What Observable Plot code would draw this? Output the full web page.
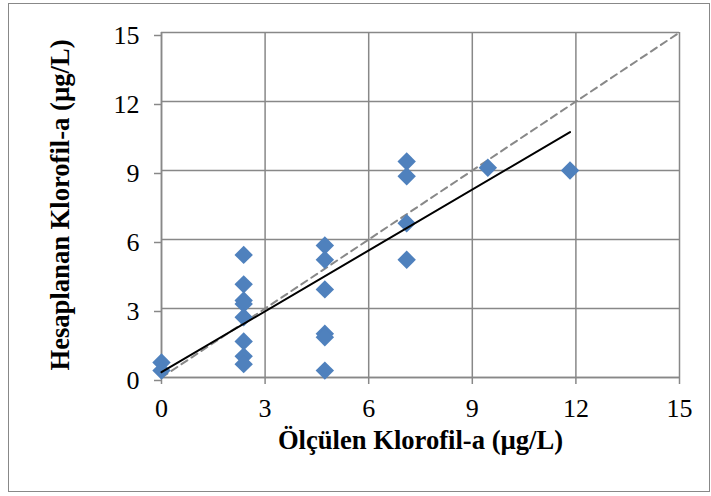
<!DOCTYPE html>
<html><head><meta charset="utf-8">
<script src="https://cdn.jsdelivr.net/npm/d3@7"></script>
<script src="https://cdn.jsdelivr.net/npm/@observablehq/plot@0.6"></script>
<style>
body{margin:0;background:#fff;}
#wrap{position:relative;width:711px;height:496px;overflow:hidden;}
#border{position:absolute;left:8px;top:3px;width:702px;height:489px;border:1.5px solid #888;box-sizing:border-box;pointer-events:none}
#wrap svg{position:absolute;left:0;top:0;}
</style></head><body><div id="wrap"><div id="border"></div></div>
<script>
// Measured (x) and calculated (y) chlorophyll-a, µg/L
const measured   = [0, 0, 2.38, 2.38, 2.38, 2.38, 2.38, 2.38, 2.38, 2.38, 4.73, 4.73, 4.73, 4.73, 4.73, 4.73, 7.1, 7.1, 7.1, 7.1, 9.45, 11.83];
const calculated = [0.65, 0.3, 5.33, 4.05, 3.35, 3.2, 2.62, 1.57, 0.92, 0.58, 5.74, 5.12, 3.83, 1.9, 1.75, 0.3, 9.39, 8.75, 6.71, 5.12, 9.12, 9.0];
// Trend line (as drawn) and 1:1 reference line
const trendX = [0, 11.83];
const trendY = [0.23, 10.67];
const oneToOne = [0, 15];
const ticks = [0, 3, 6, 9, 12, 15];
const xTitle = "Ölçülen Klorofil-a (µg/L)";
const yTitle = "Hesaplanan Klorofil-a (µg/L)";

const points = measured.map((x, i) => ({x, y: calculated[i]}));
const trend = trendX.map((x, i) => ({x, y: trendY[i]}));
const ident = oneToOne.map(v => ({x: v, y: v}));

const grid = "#888";
const chart = Plot.plot({
  width: 711, height: 496,
  marginLeft: 161, marginRight: 32, marginTop: 32, marginBottom: 119,
  style: {fontFamily: "'Liberation Serif', 'Times New Roman', serif", fontSize: "26px", color: "#000", background: "transparent"},
  x: {domain: [0, 15], ticks, label: null},
  y: {domain: [0, 15], ticks, label: null},
  marks: [
    Plot.gridX(ticks, {stroke: grid, strokeOpacity: 1, strokeWidth: 1.5}),
    Plot.gridY(ticks, {stroke: grid, strokeOpacity: 1, strokeWidth: 1.5}),
    Plot.axisX({ticks, tickSize: 7, tickPadding: 14, stroke: grid, strokeWidth: 1.5, fill: "#000", fontSize: 26, label: null}),
    Plot.axisY({ticks, tickSize: 7, tickPadding: 15, stroke: grid, strokeWidth: 1.5, fill: "#000", fontSize: 26, label: null, dy: 3}),
    Plot.ruleX([0], {stroke: grid, strokeWidth: 1.5}),
    Plot.ruleY([0], {stroke: grid, strokeWidth: 1.5}),
    Plot.line(ident, {x: "x", y: "y", stroke: "#888", strokeWidth: 2, strokeDasharray: "7,5"}),
    Plot.dot(points, {x: "x", y: "y", symbol: "diamond2", r: 8.3, fill: "#4F81BD", stroke: "none"}),
    Plot.line(trend, {x: "x", y: "y", stroke: "#000", strokeWidth: 2}),
    Plot.text([xTitle], {frameAnchor: "bottom", dy: 71, fontWeight: "bold", fontSize: 26.6, fill: "#000"}),
    Plot.text([yTitle], {frameAnchor: "left", dx: -101, rotate: -90, textAnchor: "middle", fontWeight: "bold", fontSize: 26.6, fill: "#000"})
  ]
});
document.getElementById("wrap").prepend(chart);
</script></body></html>
